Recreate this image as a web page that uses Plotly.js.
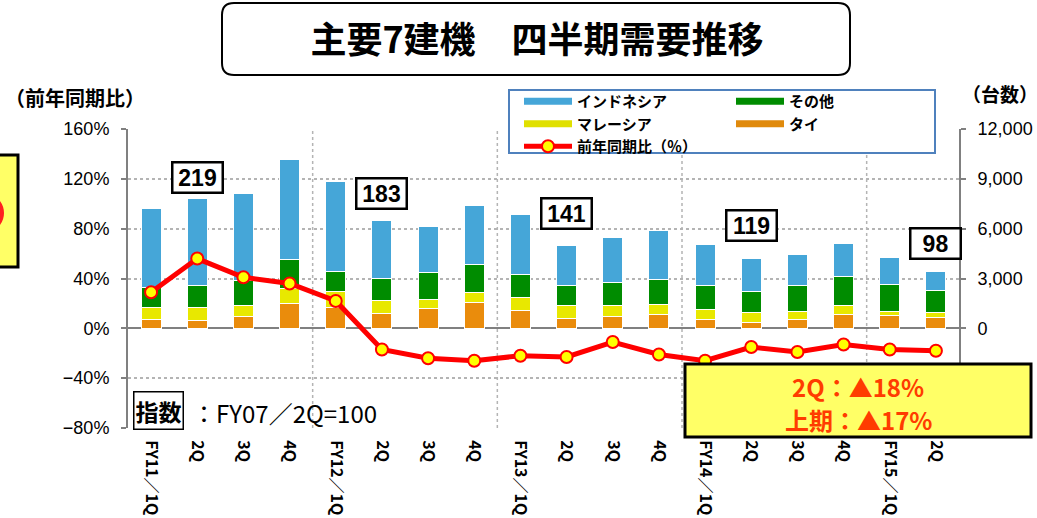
<!DOCTYPE html>
<html>
<head>
<meta charset="utf-8">
<script src="https://cdn.plot.ly/plotly-3.0.1.min.js"></script>
<style>
  html, body { margin: 0; padding: 0; background: #ffffff; }
  #chart { width: 1037px; height: 518px; }
</style>
</head>
<body>
<div id="chart"></div>
<script>
// Quarter labels (FY11/1Q .. FY15/2Q)
const quarters = ['FY11／1Q', '2Q', '3Q', '4Q', 'FY12／1Q', '2Q', '3Q', '4Q',
  'FY13／1Q', '2Q', '3Q', '4Q', 'FY14／1Q', '2Q', '3Q', '4Q', 'FY15／1Q', '2Q'];

// Units per quarter, by country (right axis)
const thailand  = [520, 500, 700, 1480, 1240, 900, 1180, 1580, 1080, 620, 720, 860, 520, 340, 560, 840, 800, 680];
const malaysia  = [760, 780, 680, 900, 960, 780, 580, 600, 800, 740, 660, 580, 640, 620, 480, 540, 220, 260];
const others    = [1200, 1320, 1480, 1740, 1220, 1340, 1580, 1660, 1360, 1240, 1360, 1500, 1420, 1260, 1540, 1740, 1620, 1340];
const indonesia = [4740, 5220, 5260, 6020, 5420, 3460, 2800, 3580, 3600, 2360, 2720, 2940, 2480, 1980, 1860, 2000, 1600, 1160];

// Year-on-year change, % (left axis)
const yoy = [29, 56, 41, 36, 22, -17, -24, -26, -22, -23, -11, -21, -26, -15, -19, -13, -17, -18];

// Index (FY07/2Q = 100), shown at the 2Q of each year
const indexQuarter = [1, 5, 9, 13, 17];
const indexValues = ['219', '183', '141', '119', '98'];

// Summary of the latest figures
const summaryLines = ['2Q：▲18%', '上期：▲17%'];

const xs = quarters.map((q, i) => i);

// plot area in pixels, used to place the boxes drawn around the chart
const L = 128, R = 959, T = 129, B = 428;
const px = x => (x - L) / (R - L);
const py = y => (B - y) / (B - T);

function bar(name, y, color) {
  return {
    type: 'bar', x: xs, y: y, name: name, yaxis: 'y',
    marker: { color: color, line: { color: '#ffffff', width: 1 } },
    showlegend: false, hoverinfo: 'skip',
  };
}

function legendSwatch(name, color, legend, rank) {
  return {
    type: 'scatter', mode: 'lines', x: [null], y: [null], name: name, legend: legend,
    legendrank: rank, showlegend: true, line: { color: color, width: 7 },
  };
}

const traces = [
  bar('タイ', thailand, '#ea8c0c'),
  bar('マレーシア', malaysia, '#e8e800'),
  bar('その他', others, '#008c00'),
  bar('インドネシア', indonesia, '#45a6d8'),
  legendSwatch('インドネシア', '#45a6d8', 'legend', 1),
  legendSwatch('マレーシア', '#e0e000', 'legend', 2),
  legendSwatch('その他', '#008c00', 'legend2', 1),
  legendSwatch('タイ', '#e08a0c', 'legend2', 2),
  {
    type: 'scatter', mode: 'lines+markers', x: xs, y: yoy, yaxis: 'y2',
    name: '前年同期比（％）', legend: 'legend', legendrank: 3, showlegend: true,
    line: { color: '#ff0000', width: 5 },
    marker: { color: '#ffff00', size: 12, line: { color: '#ff0000', width: 2 } },
  },
];

// dotted lines between fiscal years
const shapes = [];
quarters.forEach((q, i) => {
  if (i > 0 && q.startsWith('FY')) {
    shapes.push({
      type: 'line', xref: 'x', yref: 'paper', x0: i - 0.5, x1: i - 0.5, y0: 0, y1: 1,
      line: { color: '#b4b4b4', width: 1.5, dash: 'dot' }, layer: 'below',
    });
  }
});

// rounded title frame
const tx0 = px(222), tx1 = px(850), tyT = py(3), tyB = py(75);
const rx = 12 / (R - L), ry = 12 / (B - T);
shapes.push({
  type: 'path', xref: 'paper', yref: 'paper',
  path: `M${tx0 + rx},${tyT} L${tx1 - rx},${tyT} Q${tx1},${tyT} ${tx1},${tyT - ry} ` +
        `L${tx1},${tyB + ry} Q${tx1},${tyB} ${tx1 - rx},${tyB} L${tx0 + rx},${tyB} ` +
        `Q${tx0},${tyB} ${tx0},${tyB + ry} L${tx0},${tyT - ry} Q${tx0},${tyT} ${tx0 + rx},${tyT} Z`,
  line: { color: '#000000', width: 2 }, fillcolor: '#ffffff',
});

// legend frame
shapes.push({
  type: 'rect', xref: 'paper', yref: 'paper', layer: 'between',
  x0: px(509), x1: px(935), y0: py(153), y1: py(90),
  line: { color: '#4f81bd', width: 2 }, fillcolor: '#ffffff',
});

// summary box (covers the axis and line, as in the original)
shapes.push({
  type: 'rect', xref: 'paper', yref: 'paper', layer: 'above',
  x0: px(685), x1: px(1031), y0: py(437), y1: py(364),
  line: { color: '#000000', width: 3 }, fillcolor: '#ffff66',
});

// cut-off yellow box at the left edge
shapes.push({
  type: 'rect', xref: 'paper', yref: 'paper',
  x0: px(-20), x1: px(18), y0: py(267), y1: py(155),
  line: { color: '#000000', width: 3 }, fillcolor: '#ffff66',
});
shapes.push({
  type: 'circle', xref: 'paper', yref: 'paper',
  x0: px(-60), x1: px(2), y0: py(236), y1: py(190),
  line: { color: '#ff2020', width: 4 },
});

const annotations = [
  {
    xref: 'paper', yref: 'paper', x: px(3), y: py(97), xanchor: 'left', yanchor: 'middle',
    text: '（前年同期比）', showarrow: false, font: { size: 20, weight: 'bold' },
  },
  {
    xref: 'paper', yref: 'paper', x: px(960), y: py(93), xanchor: 'left', yanchor: 'middle',
    text: '（台数）', showarrow: false, font: { size: 19, weight: 'bold' },
  },
  {
    xref: 'paper', yref: 'paper', x: px(133), y: py(410), xanchor: 'left', yanchor: 'middle',
    text: '指数', showarrow: false, font: { size: 23, weight: 'bold' },
    bordercolor: '#000000', borderwidth: 1.5, borderpad: 1, bgcolor: '#ffffff',
  },
  {
    xref: 'paper', yref: 'paper', x: px(190), y: py(412), xanchor: 'left', yanchor: 'middle',
    text: '：FY07／2Q=100', showarrow: false, font: { size: 24 },
  },
];

const summaryY = [386, 419];
summaryLines.forEach((t, k) => {
  annotations.push({
    xref: 'paper', yref: 'paper', x: px(858), y: py(summaryY[k]), xanchor: 'center', yanchor: 'middle',
    text: t, showarrow: false, font: { size: 24, weight: 'bold', color: '#ff3c00' },
  });
});

const indexY = [9060, 8100, 6900, 6180, 5100];
indexValues.forEach((v, k) => {
  annotations.push({
    xref: 'x', yref: 'y', x: indexQuarter[k], y: indexY[k], text: v, showarrow: false,
    font: { family: 'Liberation Sans, Arial, sans-serif', size: 23, weight: 'bold' },
    width: 46, height: 26, borderpad: 1, bgcolor: '#ffffff', bordercolor: '#000000', borderwidth: 2.5,
  });
});

const axisFont = { family: 'Liberation Sans, Arial, sans-serif', size: 18, color: '#000000' };
const legendFont = { size: 15, weight: 'bold', color: '#000000' };

Plotly.newPlot('chart', traces, {
  width: 1037, height: 518,
  margin: { l: L, r: 1037 - R, t: T, b: 518 - B },
  paper_bgcolor: '#ffffff', plot_bgcolor: 'rgba(0,0,0,0)',
  showlegend: true,
  font: { family: 'Noto Sans CJK JP, sans-serif', color: '#000000' },
  title: {
    text: '主要7建機　四半期需要推移', xref: 'container', yref: 'container',
    x: 537 / 1037, y: 1 - 40 / 518, xanchor: 'center', yanchor: 'middle',
    font: { size: 36, weight: 'bold', color: '#000000' },
  },
  barmode: 'stack', bargap: 0.57,
  xaxis: {
    type: 'linear', range: [-0.5, 17.5], tickvals: xs, ticktext: quarters,
    tickangle: 90, ticks: 'outside', ticklen: 8, tickcolor: 'rgba(0,0,0,0)',
    showgrid: false, zeroline: false, showline: false,
    tickfont: { size: 16, weight: 'bold' },
  },
  yaxis: {
    side: 'right', range: [-6000, 12000], tickvals: [0, 3000, 6000, 9000, 12000],
    tickformat: ',d', showgrid: false, zeroline: false,
    showline: true, linecolor: '#808080', linewidth: 2,
    ticks: 'outside', ticklen: 5, tickcolor: '#808080', tickwidth: 2,
    ticklabelstandoff: 8, tickfont: axisFont,
  },
  yaxis2: {
    overlaying: 'y', side: 'left', range: [-80, 160], dtick: 40, ticksuffix: '%',
    showgrid: true, gridcolor: '#b4b4b4', griddash: 'dot', gridwidth: 1.5,
    zeroline: true, zerolinecolor: '#808080', zerolinewidth: 2,
    showline: true, linecolor: '#808080', linewidth: 2,
    ticks: 'outside', ticklen: 5, tickcolor: '#808080', tickwidth: 2,
    ticklabelstandoff: 8, tickfont: axisFont,
  },
  legend: {
    x: px(519), y: py(85), xanchor: 'left', yanchor: 'top', orientation: 'v',
    traceorder: 'normal', bgcolor: 'rgba(0,0,0,0)', itemwidth: 48, tracegroupgap: 0,
    font: legendFont,
  },
  legend2: {
    x: px(731), y: py(85), xanchor: 'left', yanchor: 'top', orientation: 'v',
    traceorder: 'normal', bgcolor: 'rgba(0,0,0,0)', itemwidth: 48, tracegroupgap: 0,
    font: legendFont,
  },
  shapes: shapes,
  annotations: annotations,
}, { displayModeBar: false });
</script>
</body>
</html>
